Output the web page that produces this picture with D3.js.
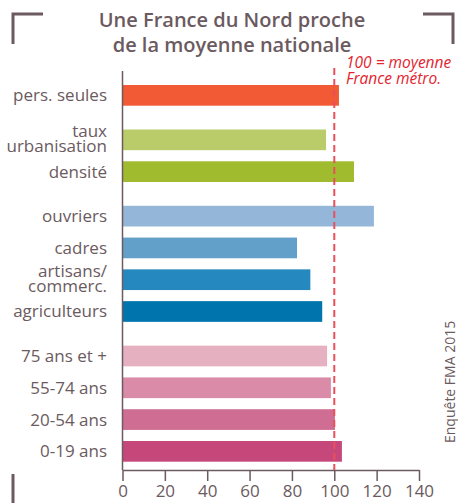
<!DOCTYPE html>
<html>
<head>
<meta charset="UTF-8">
<title>Une France du Nord proche de la moyenne nationale</title>
<script src="https://cdn.jsdelivr.net/npm/d3@7"></script>
<style>
  body { margin: 0; background: #fff; }
  text { font-family: "Open Sans", "DejaVu Sans", sans-serif; }
</style>
</head>
<body>
<script>
// données (indice, 100 = moyenne France métropolitaine)
var categories = ["pers. seules", "taux\nurbanisation", "densité", "ouvriers", "cadres",
  "artisans/\ncommerc.", "agriculteurs", "75 ans et +", "55-74 ans", "20-54 ans", "0-19 ans"];
var groups = [0, 1, 1, 2, 2, 2, 2, 3, 3, 3, 3];
var values = [102.2, 96.1, 109.3, 118.7, 82.4, 88.7, 94.3, 96.6, 98.4, 100.3, 103.6];
var colors = ["#f15a35", "#bacb6a", "#a0bb2e", "#94b6d9", "#62a0c9", "#2589bf", "#0075ad",
  "#e5b1c1", "#d98ba7", "#cf6d92", "#c6487b"];
var ticks = [0, 20, 40, 60, 80, 100, 120, 140];
var reference = 100;

var width = 458, height = 503;
var ink = "#6b5a60";
var red = "#e3242f";

var svg = d3.select("body").append("svg")
  .attr("width", width)
  .attr("height", height);

var x = d3.scaleLinear().domain([0, 140]).range([122.5, 419]);
var gap = 0.4;
var y = d3.scaleLinear().domain([0, 10 + 3 * gap]).range([85, 441]);
var barH = 20.7;
function rowY(i) { return y(i + groups[i] * gap); }

// coins
svg.append("path").attr("d", "M13,44V14H43").attr("fill", "none").attr("stroke", ink).attr("stroke-width", 3);
svg.append("path").attr("d", "M423,14H453V44").attr("fill", "none").attr("stroke", ink).attr("stroke-width", 3);
svg.append("path").attr("d", "M13,474V503").attr("fill", "none").attr("stroke", ink).attr("stroke-width", 3);

// titre
var title = svg.append("text")
  .attr("x", 232).attr("text-anchor", "middle")
  .attr("fill", ink).attr("font-size", 20).attr("font-weight", 600);
title.append("tspan").attr("x", 232).attr("y", 27).text("Une France du Nord proche");
title.append("tspan").attr("x", 232).attr("y", 52).text("de la moyenne nationale");

// barres
svg.selectAll("rect.bar")
  .data(values)
  .enter().append("rect")
  .attr("class", "bar")
  .attr("x", x(0))
  .attr("y", function(d, i) { return rowY(i); })
  .attr("width", function(d) { return x(d) - x(0); })
  .attr("height", barH)
  .attr("fill", function(d, i) { return colors[i]; });

// libellés
svg.selectAll("text.cat")
  .data(categories)
  .enter().append("text")
  .attr("class", "cat")
  .attr("text-anchor", "end")
  .attr("fill", ink)
  .attr("font-size", 17)
  .each(function(d, i) {
    var lines = d.split("\n");
    var c = rowY(i) + barH / 2;
    var t = d3.select(this);
    if (lines.length == 1) {
      t.append("tspan").attr("x", 107).attr("y", c + 6).text(lines[0]);
    } else {
      t.append("tspan").attr("x", 107).attr("y", c - 3).text(lines[0]);
      t.append("tspan").attr("x", 107).attr("y", c + 12).text(lines[1]);
    }
  });

// axe vertical
svg.append("line")
  .attr("x1", x(0)).attr("x2", x(0))
  .attr("y1", 71).attr("y2", 470)
  .attr("stroke", ink).attr("stroke-width", 1.5);

// axe horizontal
var axis = d3.axisBottom(x).tickValues(ticks).tickSize(11).tickPadding(4).tickSizeOuter(0);
var gx = svg.append("g").attr("transform", "translate(0,470)").call(axis);
gx.select(".domain").attr("stroke", ink).attr("stroke-width", 1.5);
gx.selectAll(".tick line").attr("stroke", ink).attr("stroke-width", 1.5);
gx.selectAll(".tick text")
  .attr("fill", ink).attr("font-size", 17)
  .attr("font-family", "\"Open Sans\", \"DejaVu Sans\", sans-serif");

// ligne de référence
svg.append("line")
  .attr("x1", x(reference)).attr("x2", x(reference))
  .attr("y1", 68).attr("y2", 470)
  .attr("stroke", "#e8505c").attr("stroke-width", 2)
  .attr("stroke-dasharray", "7,4");

var note = svg.append("text")
  .attr("fill", red).attr("font-size", 15.5).attr("font-style", "italic");
note.append("tspan").attr("x", 346).attr("y", 68).text("100 = moyenne");
note.append("tspan").attr("x", 346).attr("y", 84).text("France métro.");

// source
svg.append("text")
  .attr("transform", "translate(455,443) rotate(-90)")
  .attr("fill", ink).attr("font-size", 14)
  .text("Enquête FMA 2015");
</script>
</body>
</html>
